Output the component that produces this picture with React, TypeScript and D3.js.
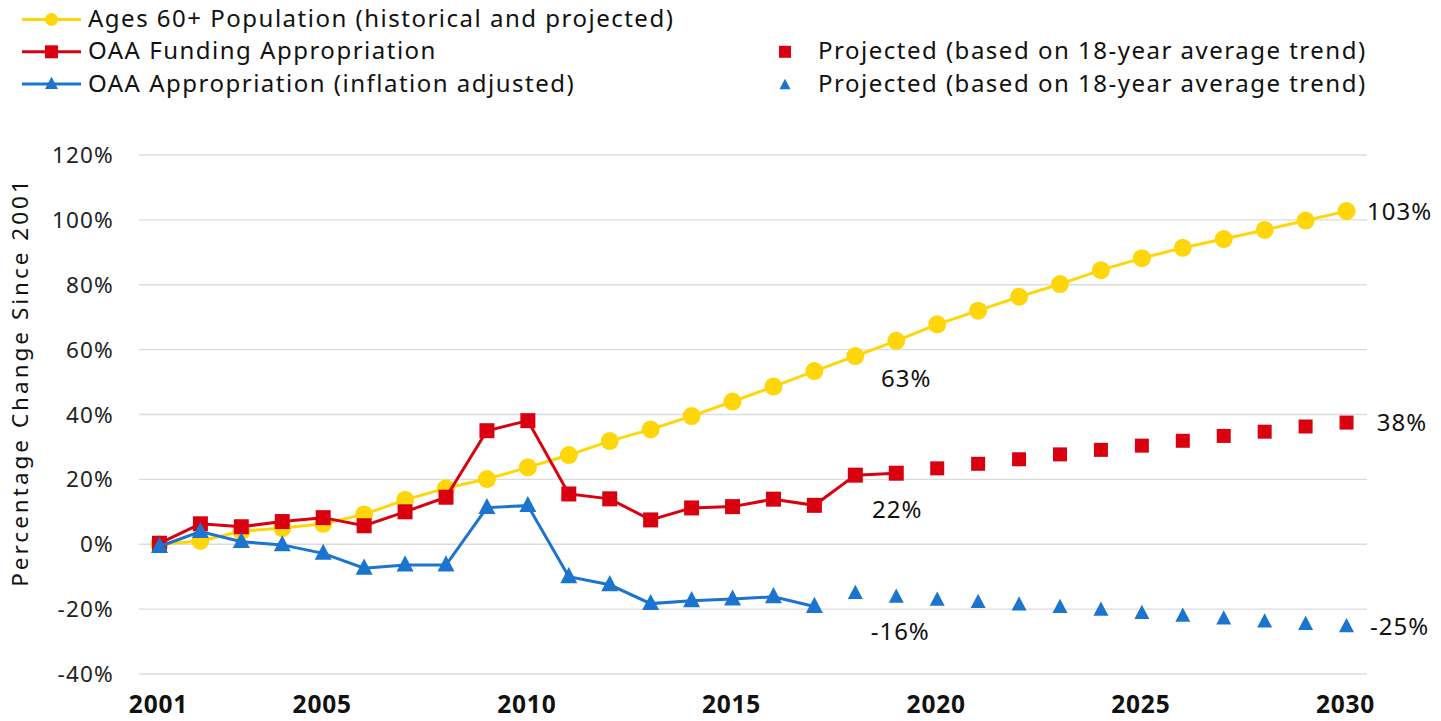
import React from "react";
import * as d3 from "d3";

const years: number[] = [2001,2002,2003,2004,2005,2006,2007,2008,2009,2010,2011,2012,2013,2014,2015,2016,2017,2018,2019,2020,2021,2022,2023,2024,2025,2026,2027,2028,2029,2030];

const population: number[] = [0,1,4,5,6.3,9.2,13.7,17.3,20.1,23.7,27.5,31.8,35.4,39.5,44,48.6,53.4,58,62.7,67.8,72,76.3,80.2,84.5,88.2,91.4,94.1,96.9,99.8,102.7];

const fundingYears: number[] = [2001,2002,2003,2004,2005,2006,2007,2008,2009,2010,2011,2012,2013,2014,2015,2016,2017,2018,2019];
const funding: number[] = [0.3,6.3,5.4,7,8.2,5.7,10,14.5,35,38.1,15.5,14,7.5,11.2,11.6,13.9,12,21.3,21.9];
const fundingProjYears: number[] = [2020,2021,2022,2023,2024,2025,2026,2027,2028,2029,2030];
const fundingProj: number[] = [23.4,24.8,26.2,27.7,29.1,30.4,31.9,33.4,34.7,36.3,37.5];

const adjustedYears: number[] = [2001,2002,2003,2004,2005,2006,2007,2008,2009,2010,2011,2012,2013,2014,2015,2016,2017];
const adjusted: number[] = [-0.7,3.9,0.8,-0.2,-2.8,-7.4,-6.4,-6.4,11.3,11.9,-10,-12.5,-18.3,-17.4,-16.9,-16.2,-19.2];
const adjustedProjYears: number[] = [2018,2019,2020,2021,2022,2023,2024,2025,2026,2027,2028,2029,2030];
const adjustedProj: number[] = [-15.1,-16.3,-17.2,-17.9,-18.7,-19.4,-20.3,-21.3,-22.1,-23,-23.9,-24.7,-25.4];

const yTicks: number[] = [-40,-20,0,20,40,60,80,100,120];
const xTickYears: number[] = [2001,2005,2010,2015,2020,2025,2030];

const legendLeft: string[] = ["Ages 60+ Population (historical and projected)", "OAA Funding Appropriation", "OAA Appropriation (inflation adjusted)"];
const legendRight: string[] = ["Projected (based on 18-year average trend)", "Projected (based on 18-year average trend)"];

const annotations: { year: number; value: number; text: string; dx: number; dy: number }[] = [
  { year: 2019, value: 62.7, text: "63%", dx: 10, dy: 46 },
  { year: 2019, value: 21.9, text: "22%", dx: 1, dy: 45 },
  { year: 2019, value: -16.3, text: "-16%", dx: 4, dy: 43 },
  { year: 2030, value: 102.7, text: "103%", dx: 53, dy: 8.5 },
  { year: 2030, value: 37.5, text: "38%", dx: 55.5, dy: 8 },
  { year: 2030, value: -25.4, text: "-25%", dx: 53, dy: 8.5 },
];

const YELLOW = "#FFD60A";
const RED = "#D9000F";
const BLUE = "#1B74CE";
const FONT = "'Noto Sans', 'DejaVu Sans', sans-serif";

const W = 1441;
const H = 721;

function tri(cx: number, cy: number, s: number) {
  const h = s * 0.95;
  return `M${cx},${cy - h * 0.6} L${cx + s / 2},${cy + h * 0.4} L${cx - s / 2},${cy + h * 0.4} Z`;
}

export default function App() {
  const x = d3.scaleBand<number>().domain(years).range([139, 1367]).padding(0);
  const cx = (yr: number) => (x(yr) as number) + x.bandwidth() / 2;
  const y = d3.scaleLinear().domain([-40, 120]).range([674, 155]);

  const line = d3.line<[number, number]>().x((d) => cx(d[0])).y((d) => y(d[1]));

  const popPts: [number, number][] = years.map((yr, i) => [yr, population[i]]);
  const fundPts: [number, number][] = fundingYears.map((yr, i) => [yr, funding[i]]);
  const fundProjPts: [number, number][] = fundingProjYears.map((yr, i) => [yr, fundingProj[i]]);
  const adjPts: [number, number][] = adjustedYears.map((yr, i) => [yr, adjusted[i]]);
  const adjProjPts: [number, number][] = adjustedProjYears.map((yr, i) => [yr, adjustedProj[i]]);

  return (
    <svg width={W} height={H} style={{ position: "absolute", left: 0, top: 0, background: "#fff" }} fontFamily={FONT}>
      <rect x={0} y={0} width={W} height={H} fill="#fff" />
      {/* gridlines */}
      {yTicks.map((t) => (
        <line key={"g" + t} x1={139} x2={1367} y1={y(t)} y2={y(t)} stroke="#DCDCDC" strokeWidth={1.3} />
      ))}
      {/* y tick labels */}
      {yTicks.map((t) => (
        <text key={"yt" + t} x={114} y={y(t) + 8} textAnchor="end" fontSize={22.5} letterSpacing={1.2} fill="#222">
          {t + "%"}
        </text>
      ))}
      {/* x tick labels */}
      {xTickYears.map((yr) => (
        <text key={"xt" + yr} x={cx(yr) - 1} y={713} textAnchor="middle" fontSize={24.5} fontWeight="bold" letterSpacing={0.8} fill="#111">
          {yr}
        </text>
      ))}
      {/* y axis title */}
      <text transform={`translate(28,382) rotate(-90)`} textAnchor="middle" fontSize={22.5} letterSpacing={3} fill="#111">
        Percentage Change Since 2001
      </text>

      {/* population */}
      <path d={line(popPts) || ""} fill="none" stroke={YELLOW} strokeWidth={3} />
      {popPts.map((p) => (
        <circle key={"pc" + p[0]} cx={cx(p[0])} cy={y(p[1])} r={9} fill={YELLOW} />
      ))}

      {/* funding */}
      <path d={line(fundPts) || ""} fill="none" stroke={RED} strokeWidth={3} />
      {fundPts.map((p) => (
        <rect key={"fr" + p[0]} x={cx(p[0]) - 7.5} y={y(p[1]) - 7.5} width={15} height={15} fill={RED} />
      ))}
      {fundProjPts.map((p) => (
        <rect key={"fp" + p[0]} x={cx(p[0]) - 7} y={y(p[1]) - 7} width={14} height={14} fill={RED} />
      ))}

      {/* adjusted */}
      <path d={line(adjPts) || ""} fill="none" stroke={BLUE} strokeWidth={3} />
      {adjPts.map((p) => (
        <path key={"at" + p[0]} d={tri(cx(p[0]), y(p[1]), 17)} fill={BLUE} />
      ))}
      {adjProjPts.map((p) => (
        <path key={"ap" + p[0]} d={tri(cx(p[0]), y(p[1]), 15)} fill={BLUE} />
      ))}

      {/* annotations */}
      {annotations.map((a, i) => (
        <text key={"an" + i} x={cx(a.year) + a.dx} y={y(a.value) + a.dy} textAnchor="middle" fontSize={24} letterSpacing={1} fill="#111">
          {a.text}
        </text>
      ))}

      {/* legend left */}
      {legendLeft.map((lbl, i) => {
        const ly = 19.5 + i * 32.3;
        const col = [YELLOW, RED, BLUE][i];
        return (
          <g key={"ll" + i}>
            <line x1={22} x2={81} y1={ly} y2={ly} stroke={col} strokeWidth={3} />
            {i === 0 && <circle cx={51.5} cy={ly} r={6.5} fill={col} />}
            {i === 1 && <rect x={45} y={ly - 6.5} width={13} height={13} fill={col} />}
            {i === 2 && <path d={tri(51.5, ly, 13)} fill={col} />}
            <text x={88} y={ly + 7.5} fontSize={24} letterSpacing={1.5} fill="#111">
              {lbl}
            </text>
          </g>
        );
      })}
      {/* legend right */}
      {legendRight.map((lbl, i) => {
        const ly = 51.8 + i * 32.3;
        return (
          <g key={"lr" + i}>
            {i === 0 ? (
              <rect x={779} y={ly - 6} width={12} height={12} fill={RED} />
            ) : (
              <path d={tri(785, ly + 1, 11)} fill={BLUE} />
            )}
            <text x={818} y={ly + 7.5} fontSize={24} letterSpacing={1.5} fill="#111">
              {lbl}
            </text>
          </g>
        );
      })}
    </svg>
  );
}
